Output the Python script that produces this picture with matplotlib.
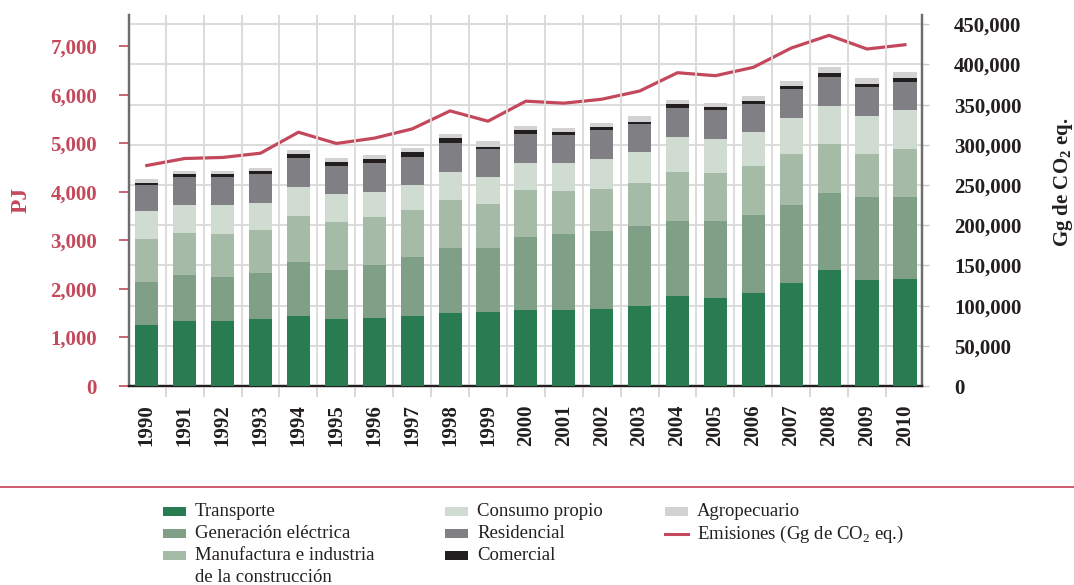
import numpy as np
import matplotlib
matplotlib.use("Agg")
import matplotlib.pyplot as plt
from matplotlib.ticker import FixedLocator, StrMethodFormatter
from matplotlib.patches import Rectangle
from matplotlib.lines import Line2D

plt.rcParams['font.family'] = ['Liberation Serif', 'DejaVu Serif']
plt.rcParams['mathtext.fontset'] = 'custom'
plt.rcParams['mathtext.rm'] = 'Liberation Serif'
plt.rcParams['mathtext.bf'] = 'Liberation Serif:bold'

# data (PJ per sector, emissions in Gg CO2 eq.)
years = [str(y) for y in range(1990, 2011)]
transporte = [1255, 1340, 1340, 1380, 1440, 1380, 1400, 1440, 1505, 1525, 1565,
              1565, 1585, 1645, 1855, 1810, 1915, 2120, 2390, 2180, 2205]
generacion = [885, 945, 905, 950, 1110, 1010, 1090, 1215, 1335, 1315, 1505,
              1565, 1605, 1650, 1545, 1585, 1605, 1605, 1585, 1710, 1690]
manufactura = [885, 865, 885, 885, 945, 990, 990, 970, 990, 905, 965,
               885, 865, 885, 1010, 990, 1010, 1050, 1010, 885, 990]
consumo_propio = [575, 575, 595, 555, 595, 575, 515, 515, 575, 555, 555,
                  575, 620, 640, 720, 700, 700, 740, 780, 780, 805]
residencial = [535, 575, 575, 595, 595, 575, 595, 575, 595, 575, 595,
               575, 595, 575, 595, 600, 575, 595, 595, 595, 575]
comercial = [40, 60, 60, 60, 85, 80, 85, 105, 105, 40, 85,
             60, 60, 40, 80, 60, 60, 60, 80, 60, 80]
agropecuario = [85, 60, 60, 60, 80, 80, 80, 80, 80, 125, 80,
                80, 80, 125, 80, 85, 105, 105, 125, 125, 125]
emisiones = [274300, 283000, 284300, 289600, 315700, 301700, 308300, 319800,
             342200, 329400, 354300, 351800, 356700, 366900, 389700, 386000,
             396400, 420400, 436200, 419200, 424500]

series = [
    ('Transporte', transporte, '#297b52'),
    ('Generación eléctrica', generacion, '#7fa087'),
    ('Manufactura e industria\nde la construcción', manufactura, '#a6bba7'),
    ('Consumo propio', consumo_propio, '#d0dbd1'),
    ('Residencial', residencial, '#808084'),
    ('Comercial', comercial, '#231f20'),
    ('Agropecuario', agropecuario, '#d2d2d2'),
]
red = '#c4485b'
dark = '#231f20'

W, H = 1074, 585
fig = plt.figure(figsize=(W / 100, H / 100), dpi=100)
ax = fig.add_axes([129 / W, 1 - 386 / H, 793 / W, 371 / H])
ax2 = ax.twinx()
ax.set_zorder(ax2.get_zorder() + 1)
ax.patch.set_visible(False)

x = np.arange(len(years))
bottom = np.zeros(len(years))
for label, vals, color in series:
    ax.bar(x, vals, 0.61, bottom=bottom, color=color, linewidth=0, zorder=3)
    bottom += np.array(vals)

ax2.plot(x, emisiones, color=red, lw=2.3, zorder=4)

ax.set_xlim(-0.47, 20.45)
ax.set_ylim(0, 7640)
ax2.set_ylim(0, 461500)

# left axis
ax.set_yticks(range(0, 8000, 1000))
ax.yaxis.set_major_formatter(StrMethodFormatter('{x:,.0f}'))
ax.tick_params(axis='y', colors=red, length=7, width=1.2, pad=16,
               labelsize=15)
for t in ax.get_yticklabels():
    t.set_fontweight('bold')

# x axis
ax.set_xticks(x)
ax.set_xticklabels(years, rotation=90, fontsize=15, fontweight='bold',
                   color=dark)
ax.tick_params(axis='x', length=0, pad=13)
ax.xaxis.set_minor_locator(FixedLocator(x[:-1] + 0.5))
ax.tick_params(axis='x', which='minor', length=8, width=1.3, color='#d6d6d6')
ax.grid(which='minor', axis='x', color='#d9d9d9', lw=1.3)
ax.set_axisbelow(True)

# right axis
ax2.set_yticks(range(0, 450001, 50000))
ax2.yaxis.set_major_formatter(StrMethodFormatter('{x:,.0f}'))
ax2.tick_params(axis='y', colors=dark, length=5, width=1.0, pad=18,
                labelsize=15)
ax2.tick_params(axis='y', color='#c8c8c8')
for t in ax2.get_yticklabels():
    t.set_fontweight('bold')
ax2.grid(axis='y', color='#d9d9d9', lw=1.3)

for a in (ax, ax2):
    a.spines['top'].set_visible(False)
    a.spines['left'].set_color('#6d6d6d')
    a.spines['right'].set_color('#6d6d6d')
    a.spines['left'].set_linewidth(1.6)
    a.spines['right'].set_linewidth(1.6)
    a.spines['bottom'].set_color(dark)
    a.spines['bottom'].set_linewidth(1.6)

fig.text(21 / W, 1 - 200 / H, 'PJ', rotation=90, color=red, fontsize=17,
         fontweight='bold', ha='center', va='center')
fig.text(1063 / W, 1 - 182 / H, 'Gg de CO$_\\mathbf{2}$ eq.', rotation=90,
         color=dark, fontsize=15, fontweight='bold', ha='center', va='center')

# separator line
fig.add_artist(Line2D([0, 1], [1 - 487 / H, 1 - 487 / H],
                      transform=fig.transFigure, color='#cf5b6b', lw=1.4))

# legend, drawn by hand in three columns
cols = [163, 445, 665]
rows = [512, 534, 556]
slots = [(0, 0), (0, 1), (0, 2), (1, 0), (1, 1), (1, 2), (2, 0)]
for (label, vals, color), (c, r) in zip(series, slots):
    px, py = cols[c], rows[r]
    fig.add_artist(Rectangle((px / W, 1 - (py + 4) / H), 23 / W, 9 / H,
                             transform=fig.transFigure, color=color, lw=0))
    lines = label.split('\n')
    for k, line in enumerate(lines):
        fig.text((px + 32) / W, 1 - (py + 21 * k) / H, line, fontsize=13.5,
                 color=dark, ha='left', va='center')
px, py = cols[2], rows[1]
fig.add_artist(Line2D([px / W, (px + 23) / W], [1 - py / H, 1 - py / H],
                      transform=fig.transFigure, color=red, lw=2.2))
fig.text((px + 32) / W, 1 - py / H, 'Emisiones (Gg de CO$_2$ eq.)',
         fontsize=13.5, color=dark, ha='left', va='center')

fig.savefig('out.png', dpi=100)
